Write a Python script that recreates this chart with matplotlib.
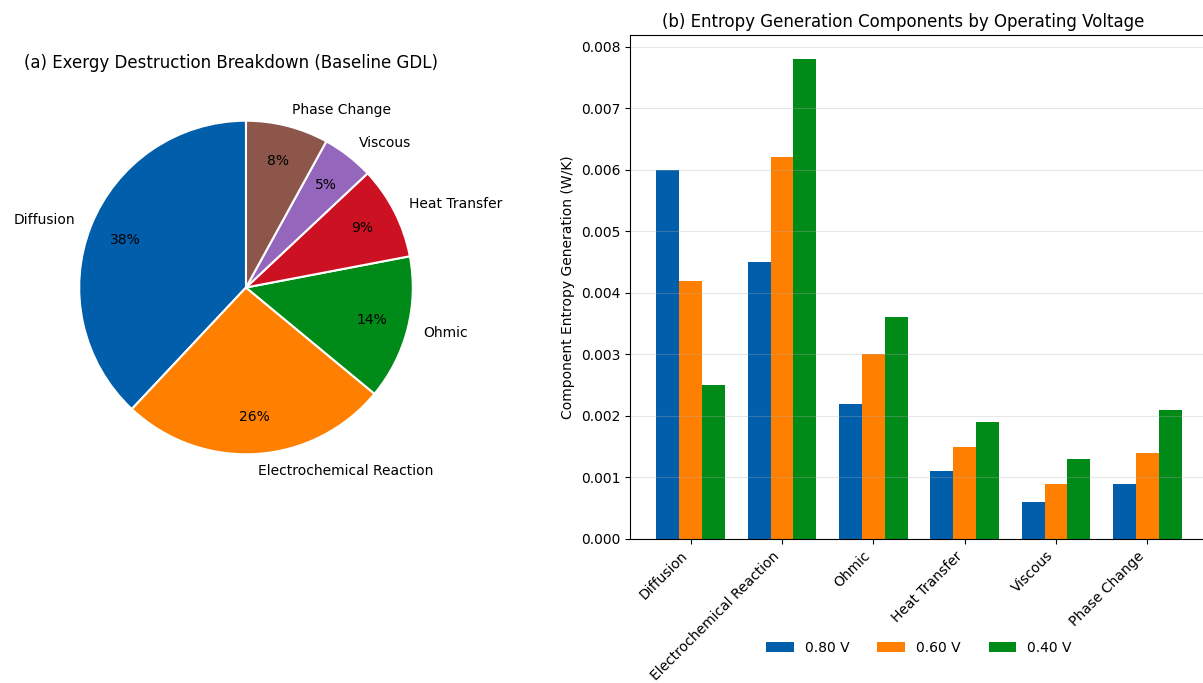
import matplotlib
matplotlib.use("Agg")
import matplotlib.pyplot as plt
import numpy as np

# Pie: share of exergy destruction (percent), baseline GDL
pie_labels = ["Diffusion", "Electrochemical Reaction", "Ohmic",
              "Heat Transfer", "Viscous", "Phase Change"]
pie_shares = [38, 26, 14, 9, 5, 8]
pie_colors = ["#005eab", "#ff7f00", "#008a18", "#cc1122", "#9467bd", "#8c564b"]

# Bars: component entropy generation (W/K) at three operating voltages
components = ["Diffusion", "Electrochemical Reaction", "Ohmic",
              "Heat Transfer", "Viscous", "Phase Change"]
voltage_labels = ["0.80 V", "0.60 V", "0.40 V"]
s_080 = [0.0060, 0.0045, 0.0022, 0.0011, 0.0006, 0.0009]
s_060 = [0.0042, 0.0062, 0.0030, 0.0015, 0.0009, 0.0014]
s_040 = [0.0025, 0.0078, 0.0036, 0.0019, 0.0013, 0.0021]
bar_colors = ["#005eab", "#ff7f00", "#008a18"]

W, H = 1203, 683
fig = plt.figure(figsize=(W / 100, H / 100), dpi=100)

# (a) pie chart
ax1 = fig.add_axes([(246 - 208.5) / W, (H - 496) / H, 417 / W, 417 / H])
ax1.pie(pie_shares, labels=pie_labels, colors=pie_colors, autopct="%1.0f%%",
        startangle=90, pctdistance=0.78,
        wedgeprops=dict(edgecolor="white", linewidth=1.5),
        textprops=dict(fontsize=10))
ax1.set_aspect("equal")
ax1.set_title("(a) Exergy Destruction Breakdown (Baseline GDL)", fontsize=12,
              x=0.464, pad=8)

# (b) grouped bar chart
ax2 = fig.add_axes([630 / W, (H - 539) / H, 578 / W, 504 / H])
x = np.arange(len(components))
width = 0.25
for i, (vals, lab, col) in enumerate(zip([s_080, s_060, s_040], voltage_labels, bar_colors)):
    ax2.bar(x + (i - 1) * width, vals, width, label=lab, color=col)
ax2.set_xticks(x)
ax2.set_xticklabels(components, rotation=45, ha="right")
ax2.set_ylabel("Component Entropy Generation (W/K)")
ax2.set_title("(b) Entropy Generation Components by Operating Voltage", fontsize=12,
              x=0.472)
ax2.grid(axis="y", alpha=0.3)
ax2.legend(loc="center", bbox_to_anchor=(919 / W, 35 / H),
           bbox_transform=fig.transFigure, ncol=3, frameon=False)

fig.savefig("out.png", dpi=100)
